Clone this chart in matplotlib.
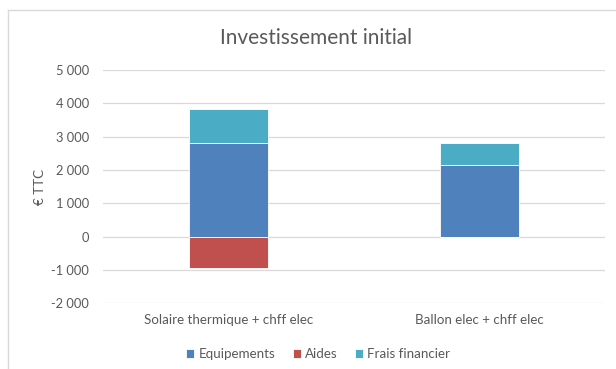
import numpy as np
import matplotlib
matplotlib.use("Agg")
import matplotlib.pyplot as plt
from matplotlib.lines import Line2D
from matplotlib.ticker import FuncFormatter

categories = ["Solaire thermique + chff elec", "Ballon elec + chff elec"]
equipements = [2800, 2150]
aides = [-930, 0]
frais = [1020, 650]
yticks = [-2000, -1000, 0, 1000, 2000, 3000, 4000, 5000]

plt.rcParams['font.family'] = ['Lato', 'DejaVu Sans']
grey = '#595959'

fig = plt.figure(figsize=(6.16, 3.69), dpi=100)
ax = fig.add_axes([103/616, 1-303.3/369, (605-103)/616, (303.3-70)/369])

x = np.arange(len(categories))
w = 0.315
ax.bar(x, equipements, w, color='#4F81BD', edgecolor='white', linewidth=0.6, label='Equipements', zorder=3)
ax.bar(x, aides, w, color='#C0504D', edgecolor='white', linewidth=0.6, label='Aides', zorder=3)
ax.bar(x, frais, w, bottom=equipements, color='#4BACC6', edgecolor='white', linewidth=0.6,
       label='Frais financier', zorder=3)

ax.set_xlim(-0.5, 1.5)
ax.set_ylim(-2000, 5000)
ax.set_yticks(yticks)
ax.yaxis.set_major_formatter(FuncFormatter(lambda v, p: f"{int(v):,}".replace(",", " ")))
ax.grid(axis='y', color='#D9D9D9', linewidth=0.9, zorder=0)
for s in ax.spines.values():
    s.set_visible(False)
ax.tick_params(axis='y', length=0, labelsize=9.3, colors=grey, pad=10)
ax.tick_params(axis='x', length=0, labelsize=9.6, colors=grey, pad=8)
ax.set_xticks(x)
ax.set_xticklabels(categories)
ax.set_ylabel('€ TTC', fontsize=9.6, color=grey, labelpad=3.5)

fig.text(316/616, 1-38/369, 'Investissement initial', ha='center', va='center', fontsize=15, color=grey)

handles, labels = ax.get_legend_handles_labels()
fig.legend(handles, labels, loc='center', bbox_to_anchor=(318/616, 1-354/369), ncol=3, frameon=False,
           fontsize=9.6, labelcolor=grey, handlelength=0.6, handleheight=0.6, handletextpad=0.3,
           columnspacing=1.3)

# chart border
fig.add_artist(Line2D([8/616, 1], [1-10/369, 1-10/369], color='#D9D9D9', linewidth=1))
fig.add_artist(Line2D([8/616, 8/616], [0, 1-10/369], color='#D9D9D9', linewidth=1))

fig.savefig('out.png', dpi=100)
